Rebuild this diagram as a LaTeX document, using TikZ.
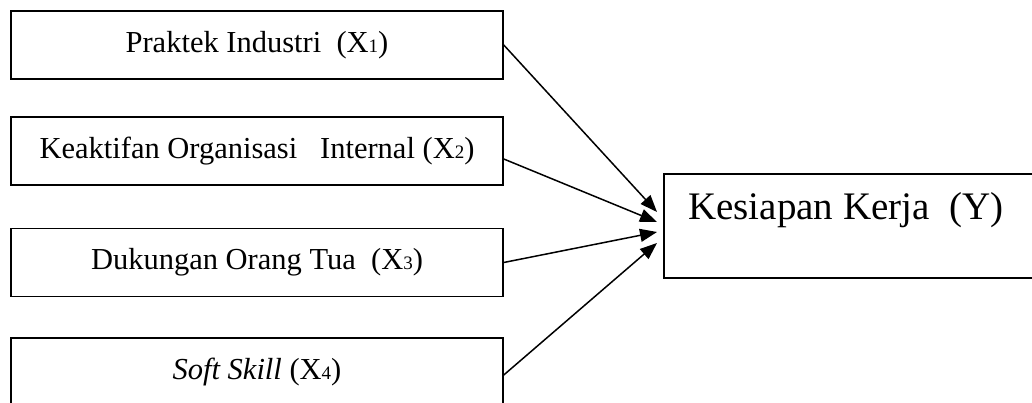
\documentclass[tikz,border=0pt]{standalone}
\usepackage{fontspec}
\setmainfont{Liberation Serif}
\usetikzlibrary{arrows.meta}
\newcommand{\sm}[1]{{\fontsize{19}{19}\selectfont #1}}
\begin{document}
\begin{tikzpicture}[x=1pt,y=1pt,
  varbox/.style={draw, line width=1.5pt, minimum width=492pt, minimum height=68pt, inner sep=0pt, font=\fontsize{30.5}{34}\selectfont},
  conn/.style={line width=1.5pt, -{Triangle[length=17pt,width=13pt]}}]
\useasboundingbox (0,0) rectangle (1032,403);
\node[varbox] (x1) at (257,358) {Praktek Industri \ (X\sm{1})};
\node[varbox] (x2) at (257,252) {Keaktifan Organisasi \ \ Internal (X\sm{2})};
\node[varbox] (x3) at (257,140.5) {Dukungan Orang Tua \ (X\sm{3})};
\node[varbox, minimum height=69pt] (x4) at (257,30.5) {\textit{Soft Skill} (X\sm{4})};
\node[draw, line width=1.5pt, minimum width=380pt, minimum height=104pt, inner sep=0pt, anchor=west] (y) at (663,177) {};
\node[anchor=west, inner sep=0pt, font=\fontsize{39}{44}\selectfont] (ylab) at ([xshift=25pt,yshift=16pt]y.west) {Kesiapan Kerja \ (Y)};
\draw[conn] (x1.east) -- ([xshift=-6pt,yshift=14pt]y.west);
\draw[conn] ([yshift=-8pt]x2.east) -- ([xshift=-6pt,yshift=4pt]y.west);
\draw[conn] (x3.east) -- ([xshift=-6pt,yshift=-6pt]y.west);
\draw[conn] ([yshift=-2.5pt]x4.east) -- ([xshift=-6pt,yshift=-17pt]y.west);
\end{tikzpicture}
\end{document}
